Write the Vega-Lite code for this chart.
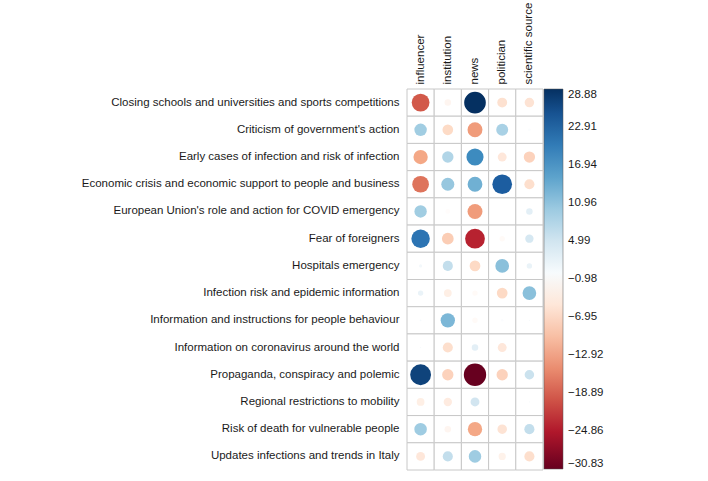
{
  "$schema": "https://vega.github.io/schema/vega-lite/v6.json",
  "autosize": {"type": "none"},
  "padding": {"left": 407, "top": 89, "right": 165, "bottom": 11},
  "width": 136,
  "height": 381,
  "background": "white",
  "config": {
    "font": "Liberation Sans",
    "view": {"stroke": null},
    "axis": {"labelFont": "Liberation Sans", "labelFontSize": 11.5, "labelColor": "#1a1a1a", "ticks": false, "domain": false, "grid": false, "title": null},
    "legend": {"labelFont": "Liberation Sans"}
  },
  "data": {
    "values": [
      {"topic": "Closing schools and universities and sports competitions", "source": "influencer", "value": -19.5},
      {"topic": "Closing schools and universities and sports competitions", "source": "institution", "value": -2.6},
      {"topic": "Closing schools and universities and sports competitions", "source": "news", "value": 28.88},
      {"topic": "Closing schools and universities and sports competitions", "source": "politician", "value": -6.0},
      {"topic": "Closing schools and universities and sports competitions", "source": "scientific source", "value": -5.6},
      {"topic": "Criticism of government's action", "source": "influencer", "value": 9.5},
      {"topic": "Criticism of government's action", "source": "institution", "value": -7.0},
      {"topic": "Criticism of government's action", "source": "news", "value": -13.7},
      {"topic": "Criticism of government's action", "source": "politician", "value": 8.8},
      {"topic": "Criticism of government's action", "source": "scientific source", "value": -0.5},
      {"topic": "Early cases of infection and risk of infection", "source": "influencer", "value": -12.6},
      {"topic": "Early cases of infection and risk of infection", "source": "institution", "value": 8.0},
      {"topic": "Early cases of infection and risk of infection", "source": "news", "value": 18.0},
      {"topic": "Early cases of infection and risk of infection", "source": "politician", "value": -4.9},
      {"topic": "Early cases of infection and risk of infection", "source": "scientific source", "value": -7.9},
      {"topic": "Economic crisis and economic support to people and business", "source": "influencer", "value": -17.2},
      {"topic": "Economic crisis and economic support to people and business", "source": "institution", "value": 10.5},
      {"topic": "Economic crisis and economic support to people and business", "source": "news", "value": 13.5},
      {"topic": "Economic crisis and economic support to people and business", "source": "politician", "value": 23.9},
      {"topic": "Economic crisis and economic support to people and business", "source": "scientific source", "value": -6.3},
      {"topic": "European Union's role and action for COVID emergency", "source": "influencer", "value": 9.5},
      {"topic": "European Union's role and action for COVID emergency", "source": "institution", "value": -1.4},
      {"topic": "European Union's role and action for COVID emergency", "source": "news", "value": -13.7},
      {"topic": "European Union's role and action for COVID emergency", "source": "politician", "value": 0},
      {"topic": "European Union's role and action for COVID emergency", "source": "scientific source", "value": 2.6},
      {"topic": "Fear of foreigners", "source": "influencer", "value": 21.0},
      {"topic": "Fear of foreigners", "source": "institution", "value": -8.5},
      {"topic": "Fear of foreigners", "source": "news", "value": -24.0},
      {"topic": "Fear of foreigners", "source": "politician", "value": -1.8},
      {"topic": "Fear of foreigners", "source": "scientific source", "value": 4.3},
      {"topic": "Hospitals emergency", "source": "influencer", "value": 0.6},
      {"topic": "Hospitals emergency", "source": "institution", "value": 6.3},
      {"topic": "Hospitals emergency", "source": "news", "value": -7.1},
      {"topic": "Hospitals emergency", "source": "politician", "value": 11.6},
      {"topic": "Hospitals emergency", "source": "scientific source", "value": 1.8},
      {"topic": "Infection risk and epidemic information", "source": "influencer", "value": 1.8},
      {"topic": "Infection risk and epidemic information", "source": "institution", "value": -3.7},
      {"topic": "Infection risk and epidemic information", "source": "news", "value": -1.8},
      {"topic": "Infection risk and epidemic information", "source": "politician", "value": -7.1},
      {"topic": "Infection risk and epidemic information", "source": "scientific source", "value": 11.6},
      {"topic": "Information and instructions for people behaviour", "source": "influencer", "value": 0.2},
      {"topic": "Information and instructions for people behaviour", "source": "institution", "value": 12.6},
      {"topic": "Information and instructions for people behaviour", "source": "news", "value": -1.8},
      {"topic": "Information and instructions for people behaviour", "source": "politician", "value": -0.4},
      {"topic": "Information and instructions for people behaviour", "source": "scientific source", "value": 0.1},
      {"topic": "Information on coronavirus around the world", "source": "influencer", "value": 0.1},
      {"topic": "Information on coronavirus around the world", "source": "institution", "value": -6.3},
      {"topic": "Information on coronavirus around the world", "source": "news", "value": 2.6},
      {"topic": "Information on coronavirus around the world", "source": "politician", "value": -4.9},
      {"topic": "Information on coronavirus around the world", "source": "scientific source", "value": 0},
      {"topic": "Propaganda, conspiracy and polemic", "source": "influencer", "value": 26.8},
      {"topic": "Propaganda, conspiracy and polemic", "source": "institution", "value": -7.9},
      {"topic": "Propaganda, conspiracy and polemic", "source": "news", "value": -30.83},
      {"topic": "Propaganda, conspiracy and polemic", "source": "politician", "value": -7.9},
      {"topic": "Propaganda, conspiracy and polemic", "source": "scientific source", "value": 5.6},
      {"topic": "Regional restrictions to mobility", "source": "influencer", "value": -3.7},
      {"topic": "Regional restrictions to mobility", "source": "institution", "value": -4.3},
      {"topic": "Regional restrictions to mobility", "source": "news", "value": 4.9},
      {"topic": "Regional restrictions to mobility", "source": "politician", "value": 0},
      {"topic": "Regional restrictions to mobility", "source": "scientific source", "value": 0.1},
      {"topic": "Risk of death for vulnerable people", "source": "influencer", "value": 9.7},
      {"topic": "Risk of death for vulnerable people", "source": "institution", "value": -2.6},
      {"topic": "Risk of death for vulnerable people", "source": "news", "value": -12.6},
      {"topic": "Risk of death for vulnerable people", "source": "politician", "value": -5.6},
      {"topic": "Risk of death for vulnerable people", "source": "scientific source", "value": 6.3},
      {"topic": "Updates infections and trends in Italy", "source": "influencer", "value": -4.9},
      {"topic": "Updates infections and trends in Italy", "source": "institution", "value": 6.3},
      {"topic": "Updates infections and trends in Italy", "source": "news", "value": 9.7},
      {"topic": "Updates infections and trends in Italy", "source": "politician", "value": -3.2},
      {"topic": "Updates infections and trends in Italy", "source": "scientific source", "value": -6.3}
    ]
  },
  "transform": [{"calculate": "abs(datum.value)", "as": "magnitude"}],
  "encoding": {
    "x": {"field": "source", "type": "nominal", "sort": ["influencer", "institution", "news", "politician", "scientific source"], "scale": {"paddingInner": 0, "paddingOuter": 0}, "axis": {"orient": "top", "labelAngle": -90, "labelPadding": 5}},
    "y": {"field": "topic", "type": "nominal", "sort": "ascending", "scale": {"paddingInner": 0, "paddingOuter": 0}, "axis": {"labelPadding": 8, "labelLimit": 420}}
  },
  "layer": [
    {
      "mark": {"type": "rect", "fill": "white", "stroke": "#c8c8c8", "strokeWidth": 1}
    },
    {
      "mark": {"type": "circle", "opacity": 1},
      "encoding": {
        "size": {"field": "magnitude", "type": "quantitative", "scale": {"domain": [0, 30.83], "range": [0, 500], "zero": true}, "legend": null},
        "color": {
          "field": "value", "type": "quantitative",
          "scale": {
            "domain": [-30.83, -24.86, -18.89, -12.92, -6.95, -0.98, 4.99, 10.96, 16.94, 22.91, 28.88],
            "range": ["#67001f", "#b2182b", "#d6604d", "#f4a582", "#fddbc7", "#ffffff", "#d1e5f0", "#92c5de", "#4393c3", "#2166ac", "#053061"],
            "interpolate": "rgb"
          },
          "legend": {
            "title": null, "orient": "right", "offset": 1, "padding": 0,
            "gradientLength": 380, "gradientThickness": 19,
            "gradientStrokeColor": "#555", "gradientStrokeWidth": 0.5,
            "values": [28.88, 22.91, 16.94, 10.96, 4.99, -0.98, -6.95, -12.92, -18.89, -24.86, -30.83],
            "format": ".2f", "labelFontSize": 11.5, "labelColor": "#1a1a1a", "labelOffset": 5,
            "labelOverlap": false, "labelBaseline": "middle"
          }
        }
      }
    }
  ]
}
